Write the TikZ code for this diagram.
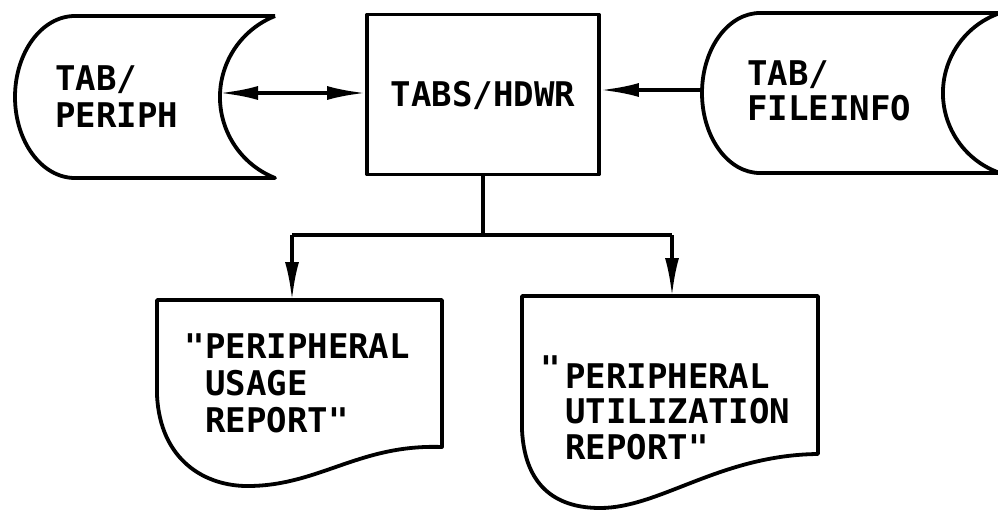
\documentclass[tikz,border=0pt]{standalone}
\usepackage{fontspec}
\newfontfamily\lett{DejaVu Sans Mono}[Ligatures=ResetAll]
\usetikzlibrary{arrows.meta}
\tikzset{
  shp/.style={line width=3.8pt, line join=round},
  conn/.style={line width=3.4pt},
  arr/.style={conn, -{Latex[length=38pt,width=14pt]}},
  dblarr/.style={conn, {Latex[length=38pt,width=14pt]}-{Latex[length=38pt,width=14pt]}},
  lbl/.style={inner sep=0pt, anchor=base west, font=\lett\bfseries\fontsize{34}{37}\selectfont},
  procbox/.style={shp, draw, rectangle, minimum width=232pt, minimum height=160pt,
    inner sep=0pt, text height=24.8pt, text depth=0pt, font=\lett\bfseries\fontsize{34}{37}\selectfont}
}
\begin{document}
\begin{tikzpicture}[x=1pt,y=1pt]
\useasboundingbox (0,0) rectangle (998,-511);

% stored data TAB/PERIPH
\draw[shp] (275,-16) -- (75,-16) arc[start angle=90, end angle=270, x radius=60, y radius=81]
  -- (275,-178) arc[start angle=248.4, end angle=111.6, radius=87.1];
\coordinate (periphR) at (220,-93);
\node[lbl] (periph) at (55,-90) {\begin{tabular}[t]{@{}l@{}}TAB/\\PERIPH\end{tabular}};

% stored data TAB/FILEINFO
\draw[shp] (1000,-13) -- (760,-13) arc[start angle=90, end angle=270, x radius=58, y radius=80]
  -- (1000,-173) arc[start angle=251, end angle=109, radius=84.6];
\coordinate (fileL) at (702,-90);
\node[lbl] (fileinfo) at (747,-85) {\fontsize{34}{35}\selectfont\begin{tabular}[t]{@{}l@{}}TAB/\\FILEINFO\end{tabular}};

% process box
\node[procbox] (hdwr) at (483,-94.5) {TABS/HDWR};

% report: usage
\draw[shp] (157,-300) -- (157,-395) .. controls (160,-460) and (205,-487) .. (250,-486)
  .. controls (320,-485) and (360,-444) .. (442,-447) -- (442,-300) -- cycle;
\coordinate (usageTop) at (292,-300);
\node[lbl] (usage) at (205,-358) {\begin{tabular}[t]{@{}l@{}}\llap{"}PERIPHERAL\\USAGE\\REPORT"\end{tabular}};

% report: utilization
\draw[shp] (522,-296) -- (522,-430) .. controls (525,-490) and (560,-508) .. (600,-508)
  .. controls (660,-508) and (720,-455) .. (818,-454) -- (818,-296) -- cycle;
\coordinate (utilTop) at (672,-296);
\node[lbl] (util) at (565,-388) {\fontsize{34}{35}\selectfont\begin{tabular}[t]{@{}l@{}}\llap{\raisebox{8pt}{"}\hspace{4pt}}PERIPHERAL\\UTILIZATION\\REPORT"\end{tabular}};

% connectors
\draw[dblarr] (periphR) -- (hdwr.west |- periphR);
\draw[arr] (fileL) -- (hdwr.east |- fileL);
\coordinate (split) at (483,-235);
\draw[conn] (hdwr.south) -- (split);
\draw[conn] (usageTop |- split) -- (utilTop |- split);
\draw[arr] (usageTop |- split) -- (usageTop);
\draw[arr] (utilTop |- split) -- (utilTop);
\end{tikzpicture}
\end{document}
